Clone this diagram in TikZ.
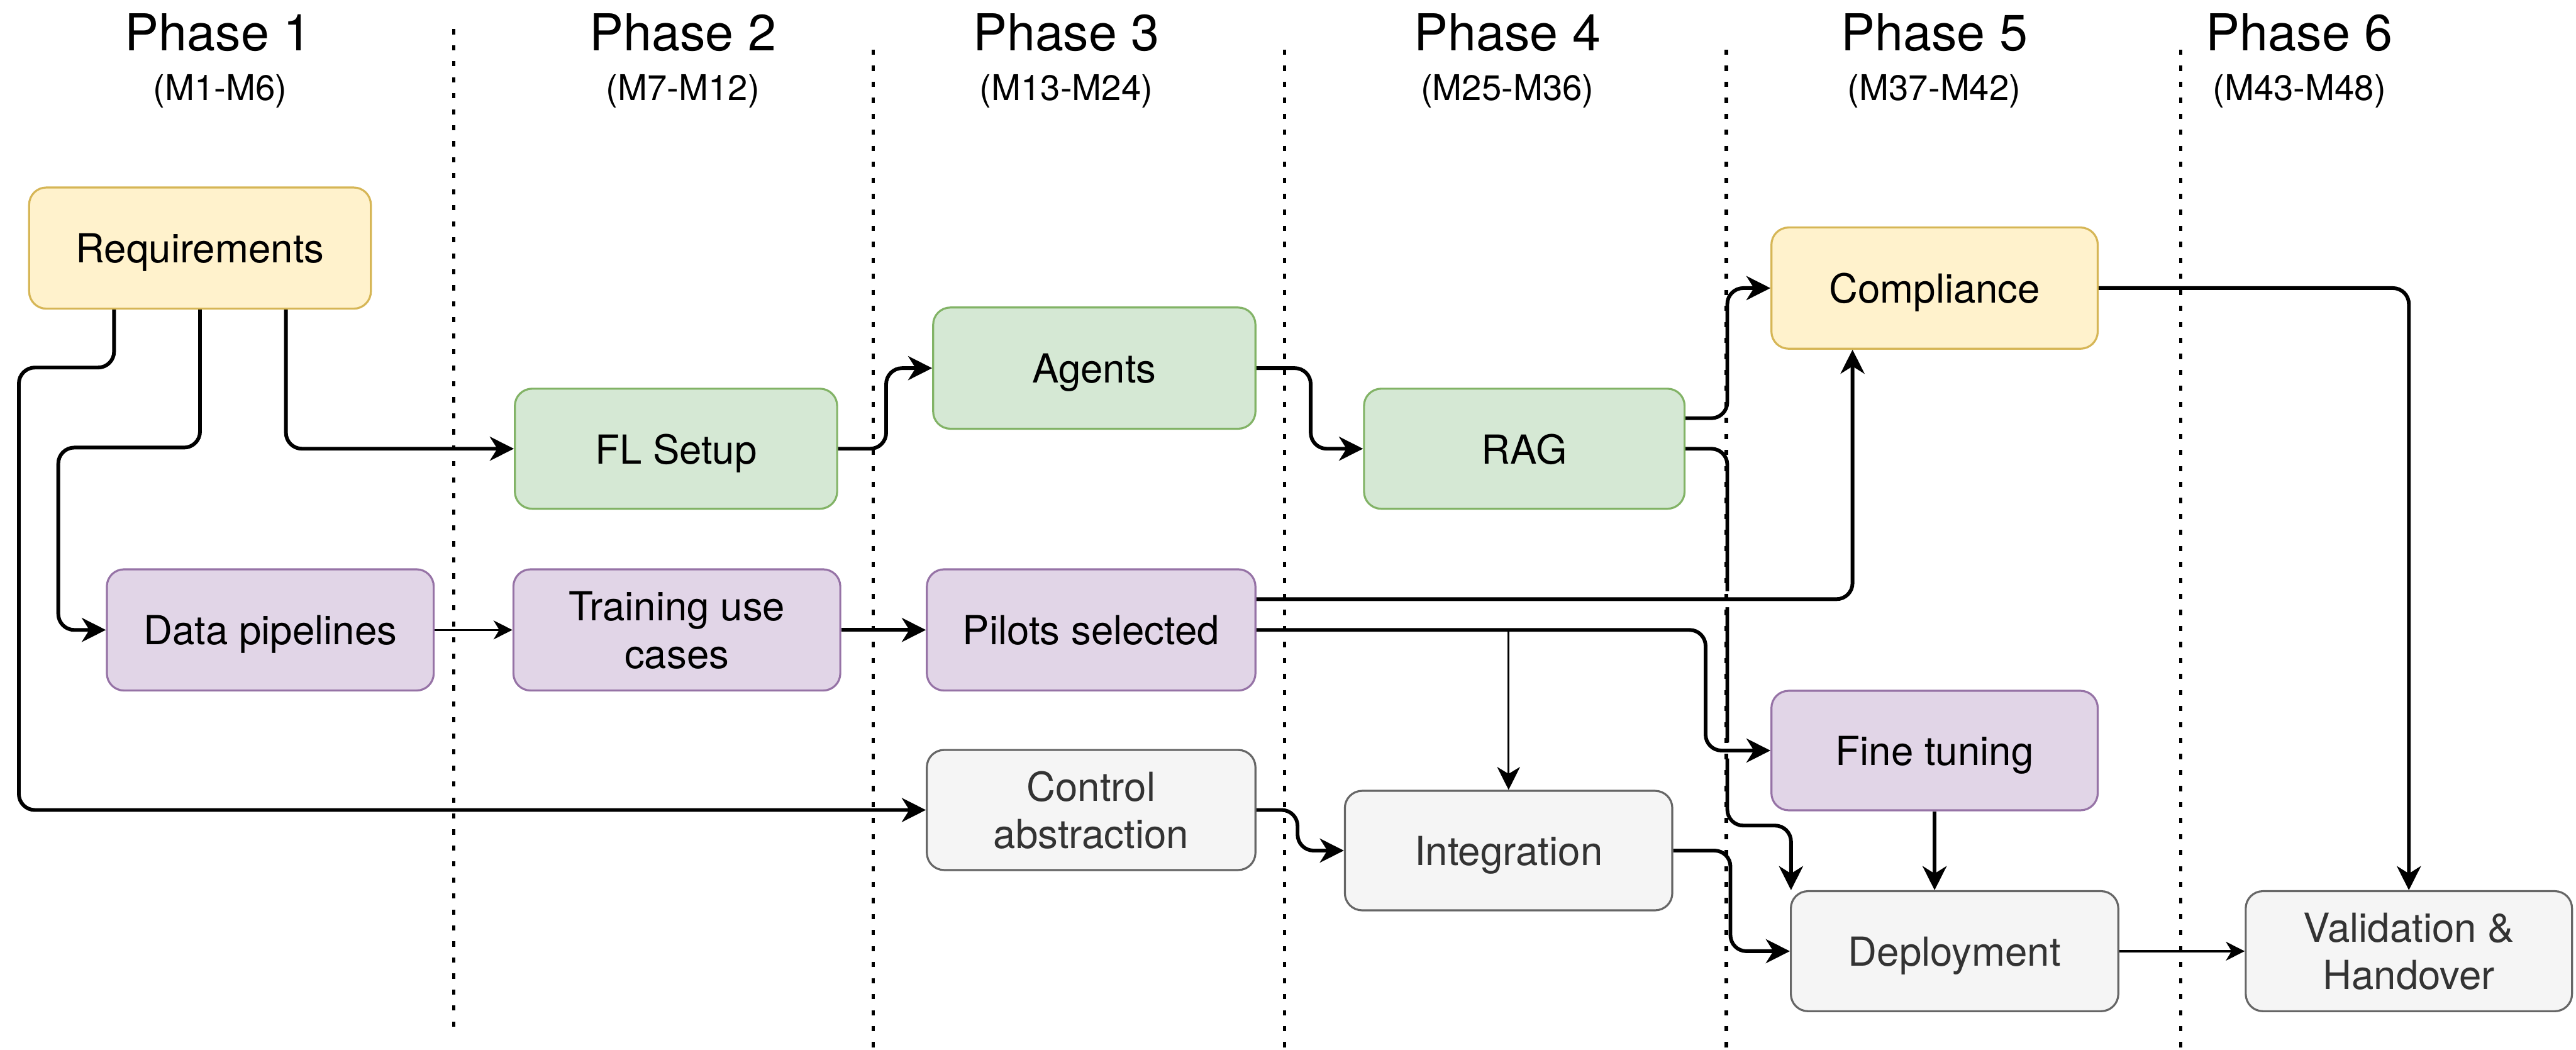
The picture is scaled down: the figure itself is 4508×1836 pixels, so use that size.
\documentclass[tikz,border=0pt]{standalone}
\usepackage{fontspec}
\setmainfont{TeX Gyre Heros}
\usetikzlibrary{arrows.meta,calc}

\definecolor{ylwfill}{HTML}{FFF2CC}\definecolor{ylwline}{HTML}{D6B656}
\definecolor{grnfill}{HTML}{D5E8D4}\definecolor{grnline}{HTML}{82B366}
\definecolor{prpfill}{HTML}{E1D5E7}\definecolor{prpline}{HTML}{9673A6}
\definecolor{gryfill}{HTML}{F5F5F5}\definecolor{gryline}{HTML}{666666}
\definecolor{grytext}{HTML}{333333}

\begin{document}
\begin{tikzpicture}[x=1pt,y=-1pt,
  box/.style={draw, rounded corners=30pt, line width=3.5pt,
    minimum width=572pt, minimum height=210pt, inner sep=0pt, text depth=0pt,
    align=center, font=\fontsize{70}{83}\selectfont},
  ylw/.style={box, fill=ylwfill, draw=ylwline},
  grn/.style={box, fill=grnfill, draw=grnline},
  prp/.style={box, fill=prpfill, draw=prpline},
  gry/.style={box, fill=gryfill, draw=gryline, text=grytext},
  flow/.style={line width=6.5pt, rounded corners=28pt,
    -{Stealth[length=42pt,width=42pt,inset=13pt]}},
  thinflow/.style={line width=3.5pt,
    -{Stealth[length=33pt,width=33pt,inset=10pt]}},
  gapped/.style={preaction={draw=white, line width=28pt, -,
    shorten <=18pt, shorten >=50pt}},
  phase/.style={anchor=base, inner sep=0pt, font=\fontsize{89}{100}\selectfont},
  months/.style={anchor=base, inner sep=0pt, font=\fontsize{62}{70}\selectfont},
  divider/.style={line width=6pt, dash pattern=on 9pt off 19pt},
]
\useasboundingbox (0,0) rectangle (4508,1836);
\fill[white] (0,0) rectangle (4508,1836);

% phase headings
\node[phase]  (ph1) at (382,89)  {Phase 1};
\node[months] (mo1) at (385,176) {(M1-M6)};
\node[phase]  (ph2) at (1195,89)  {Phase 2};
\node[months] (mo2) at (1195,176) {(M7-M12)};
\node[phase]  (ph3) at (1866,89)  {Phase 3};
\node[months] (mo3) at (1866,176) {(M13-M24)};
\node[phase]  (ph4) at (2638,89)  {Phase 4};
\node[months] (mo4) at (2638,176) {(M25-M36)};
\node[phase]  (ph5) at (3385,89)  {Phase 5};
\node[months] (mo5) at (3385,176) {(M37-M42)};
\node[phase]  (ph6) at (4024,89)  {Phase 6};
\node[months] (mo6) at (4024,176) {(M43-M48)};

% work packages
\node[ylw, minimum width=598pt, minimum height=212pt] (req) at (350,434) {Requirements};
\node[grn, minimum width=564pt] (fl)   at (1183,785)  {FL Setup};
\node[prp, minimum height=212pt] (dp)  at (473,1102)  {Data pipelines};
\node[prp, minimum height=212pt] (tr)  at (1184.5,1102) {Training use\\cases};
\node[grn, minimum width=564pt, minimum height=212pt] (ag) at (1915,644) {Agents};
\node[grn, minimum width=561pt] (rag)  at (2667.5,785) {RAG};
\node[prp, minimum width=575pt, minimum height=212pt] (pil) at (1909.5,1102) {Pilots selected};
\node[gry, minimum width=575pt] (ctrl) at (1909.5,1417) {Control\\abstraction};
\node[gry, minimum width=573pt, minimum height=209pt] (int) at (2640,1488) {Integration};
\node[ylw, minimum width=571pt, minimum height=212pt] (comp) at (3385.5,504) {Compliance};
\node[prp, minimum width=571pt, minimum height=209pt] (ft) at (3385.5,1313) {Fine tuning};
\node[gry, minimum width=573pt] (dep) at (3420.5,1664) {Deployment};
\node[gry, minimum width=571pt] (val) at (4215.5,1664) {Validation \&\\Handover};

% connectors
\draw[flow] ($(req.south west)!0.75!(req.south east)$) |- (fl.west);
\draw[flow] (req.south) -- (350,783) -- (102,783) |- (dp.west);
\draw[flow] ($(req.south west)!0.25!(req.south east)$) |- (33,643) |- (ctrl.west);
\draw[thinflow] (dp.east) -- (tr.west);
\draw[flow] (tr.east) -- (pil.west);
\draw[flow] (fl.east) -- ++(84,0) |- (ag.west);
\draw[flow] (ag.east) -- ++(95,0) |- (rag.west);
\draw[flow] ($(rag.north east)!0.25!(rag.south east)$) -- ++(73,0) |- (comp.west);
\draw[flow] (rag.east) -- ++(73,0) |- ($(dep.north west)+(2,-113)$) -- ($(dep.north west)+(2,0)$);
\draw[flow, gapped] ($(pil.north east)!0.25!(pil.south east)$) -| ($(comp.south west)!0.25!(comp.south east)$);
\draw[flow, gapped] (pil.east) -- ++(786,0) |- (ft.west);
\draw[line width=3.5pt, -{Stealth[length=40pt,width=40pt,inset=12pt]}] (pil.east -| int.north) -- (int.north);
\draw[flow] (ctrl.east) -- ++(72,0) |- (int.west);
\draw[flow] (int.east) -- ++(100,0) |- (dep.west);
\draw[flow] (ft.south) -- (ft.south |- dep.north);
\draw[thinflow] (dep.east) -- (val.west);
\draw[flow] (comp.east) -| (val.north);

% phase dividers
\draw[divider] (794,51) -- (794,1803);
\draw[divider] (1528,87) -- (1528,1836);
\draw[divider] (2248,87) -- (2248,1836);
\draw[divider] (3021,87) -- (3021,1836);
\draw[divider] (3816,87) -- (3816,1836);
\end{tikzpicture}
\end{document}
